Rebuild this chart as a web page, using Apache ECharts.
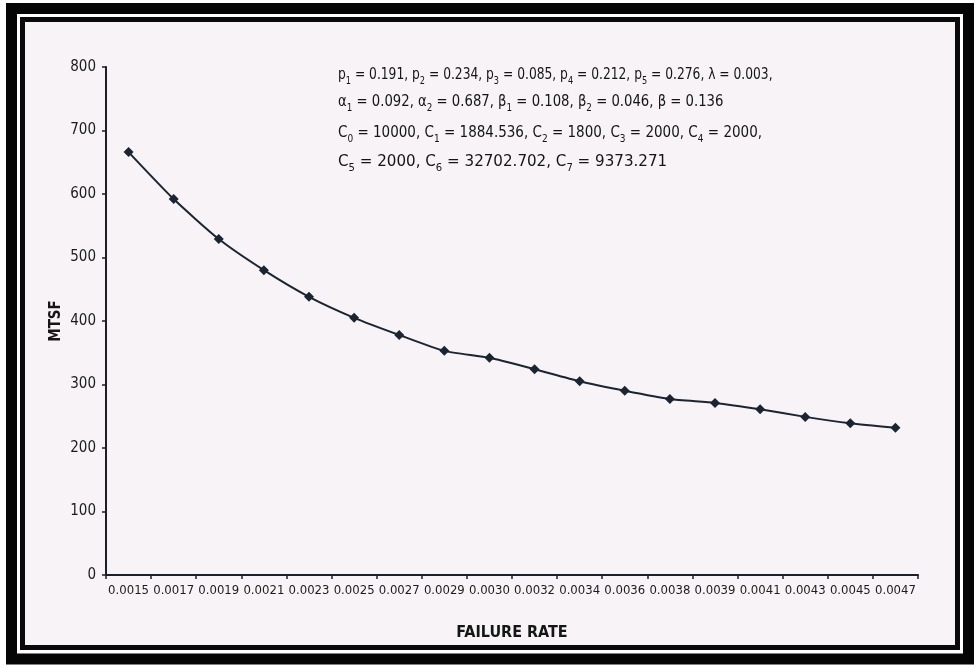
<!DOCTYPE html>
<html>
<head>
<meta charset="utf-8">
<title>MTSF vs Failure Rate</title>
<script src="https://cdn.jsdelivr.net/npm/echarts@6/dist/echarts.min.js"></script>
<style>
  html, body { margin: 0; padding: 0; background: #ffffff; }
  #chart { width: 976px; height: 668px; }
</style>
</head>
<body>
<div id="chart"></div>
<script>
// Failure rate categories on the x axis
const failureRates = ['0.0015', '0.0017', '0.0019', '0.0021', '0.0023', '0.0025', '0.0027', '0.0029', '0.0030',
  '0.0032', '0.0034', '0.0036', '0.0038', '0.0039', '0.0041', '0.0043', '0.0045', '0.0047'];

// Mean time to system failure for each failure rate
const mtsfValues = [666, 592, 529, 480, 438, 405, 378, 353, 342, 324, 305, 290, 277, 271, 261, 249, 239, 232];

// Y axis range
const yMin = 0;
const yMax = 800;
const yStep = 100;

// Parameter block: each line is a list of [base, subscript, tail] pieces
const paramLines = [
  [['p', '1', ' = 0.191, '], ['p', '2', ' = 0.234, '], ['p', '3', ' = 0.085, '], ['p', '4', ' = 0.212, '], ['p', '5', ' = 0.276, '], ['λ', '', ' = 0.003,']],
  [['α', '1', ' = 0.092, '], ['α', '2', ' = 0.687, '], ['β', '1', ' = 0.108, '], ['β', '2', ' = 0.046, '], ['β', '', ' = 0.136']],
  [['C', '0', ' = 10000, '], ['C', '1', ' = 1884.536, '], ['C', '2', ' = 1800, '], ['C', '3', ' = 2000, '], ['C', '4', ' = 2000,']],
  [['C', '5', ' = 2000, '], ['C', '6', ' = 32702.702, '], ['C', '7', ' = 9373.271']]
];

const FONT = '"DejaVu Sans Condensed", "Liberation Sans Narrow", "Liberation Sans", sans-serif';
const INK = '#151515';

function richLine(parts) {
  return parts.map(p => '{b|' + p[0] + '}' + (p[1] ? '{s|' + p[1] + '}' : '') + '{b|' + p[2] + '}').join('');
}

const chart = echarts.init(document.getElementById('chart'), null, { renderer: 'canvas' });

// vertical position and horizontal stretch of each parameter line
const lineTops = [63, 90, 121, 150];
const lineStretch = [0.91, 0.98, 1.0, 1.12];
const paramGraphics = paramLines.map((parts, i) => ({
  type: 'text',
  x: 338,
  y: lineTops[i],
  scaleX: lineStretch[i],
  z: 10,
  style: {
    text: richLine(parts),
    align: 'left',
    verticalAlign: 'top',
    font: '15px ' + FONT,
    fill: INK,
    rich: {
      b: { fontSize: 15, fontFamily: FONT, fill: INK, lineHeight: 20, verticalAlign: 'bottom' },
      s: { fontSize: 10, fontFamily: FONT, fill: INK, lineHeight: 20, verticalAlign: 'bottom', padding: [0, 0, -3, 0] }
    }
  }
}));

const option = {
  backgroundColor: '#ffffff',
  animation: false,
  grid: { left: 106, right: 58, top: 67, bottom: 93 },
  graphic: [
    // page area inside the frame
    { type: 'rect', z: -10, shape: { x: 25, y: 22, width: 930, height: 623 }, style: { fill: '#f7f3f6' } },
    // outer heavy frame
    { type: 'rect', z: -5, shape: { x: 11.5, y: 8.5, width: 957, height: 650.5 }, style: { fill: null, stroke: '#050505', lineWidth: 11 } },
    // inner thin frame
    { type: 'rect', z: -5, shape: { x: 22.5, y: 19.5, width: 935, height: 628 }, style: { fill: null, stroke: '#0a0a0a', lineWidth: 5 } },
    ...paramGraphics
  ],
  xAxis: {
    type: 'category',
    data: failureRates,
    boundaryGap: true,
    name: 'FAILURE RATE',
    nameLocation: 'middle',
    nameGap: 50,
    nameMoveOverlap: false,
    nameTextStyle: { fontFamily: FONT, fontSize: 16, fontWeight: 'bold', color: INK },
    axisLine: { lineStyle: { color: '#1a1f2a', width: 2 } },
    axisTick: { show: true, length: 4, alignWithLabel: false, lineStyle: { color: '#1a1f2a', width: 1.5 } },
    axisLabel: { interval: 0, margin: 9, fontFamily: FONT, fontSize: 13, color: '#1c1c1c' },
    splitLine: { show: false }
  },
  yAxis: {
    type: 'value',
    min: yMin,
    max: yMax,
    interval: yStep,
    name: 'MTSF',
    nameLocation: 'middle',
    nameGap: 42,
    nameMoveOverlap: false,
    nameRotate: 90,
    nameTextStyle: { fontFamily: FONT, fontSize: 15, fontWeight: 'bold', color: INK },
    axisLine: { show: true, lineStyle: { color: '#1a1f2a', width: 2 } },
    axisTick: { show: true, length: 4, lineStyle: { color: '#1a1f2a', width: 1.5 } },
    axisLabel: { margin: 10, fontFamily: FONT, fontSize: 15, color: '#1c1c1c' },
    splitLine: { show: false }
  },
  series: [{
    type: 'line',
    data: mtsfValues,
    smooth: 0.2,
    symbol: 'diamond',
    symbolSize: 10,
    lineStyle: { color: '#1b2431', width: 2 },
    itemStyle: { color: '#1b2431' }
  }]
};

chart.setOption(option);
</script>
</body>
</html>
